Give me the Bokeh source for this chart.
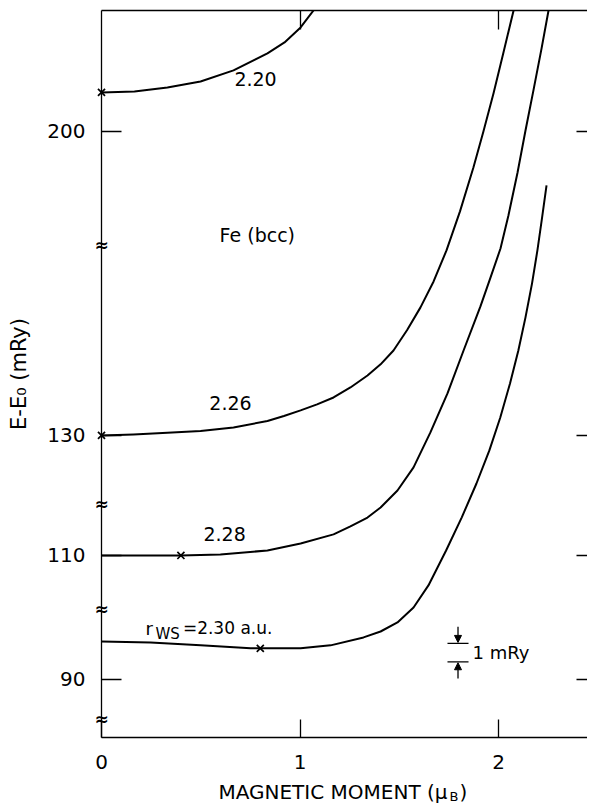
from bokeh.plotting import figure
from bokeh.models import (Range1d, LinearAxis, FixedTicker, Label,
                          ColumnDataSource, Arrow, NormalHead)
from bokeh.embed import file_html
from bokeh.resources import INLINE
from bokeh.core.properties import value

FONT = "DejaVu Sans"

# ---------------- data ----------------
# Wigner-Seitz radii of the four curves
r_ws = ["2.20", "2.26", "2.28", "2.30"]

moment_220 = [0.0, 0.166, 0.332, 0.499, 0.665, 0.836, 0.922, 1.003, 1.068]
energy_220 = [202.11, 202.16, 202.38, 202.70, 203.30, 204.22, 204.81, 205.62, 206.54]

moment_226 = [0.0, 0.161, 0.332, 0.499, 0.665, 0.836, 0.919, 1.003, 1.086, 1.169, 1.254,
              1.340, 1.406, 1.471, 1.539, 1.607, 1.673, 1.738, 1.806, 1.874, 1.924,
              1.975, 2.025, 2.076]
energy_226 = [130.0, 130.05, 130.14, 130.24, 130.43, 130.78, 131.05, 131.35, 131.68,
              132.05, 132.59, 133.24, 133.84, 134.59, 135.68, 136.92, 138.32, 140.0,
              142.11, 144.49, 146.43, 148.49, 150.70, 152.97]

moment_228 = [0.0, 0.202, 0.398, 0.599, 0.836, 1.003, 1.169, 1.254, 1.340, 1.406, 1.491,
              1.572, 1.657, 1.743, 1.824, 1.909, 1.960, 2.010, 2.050, 2.096, 2.136,
              2.176, 2.217, 2.252]
energy_228 = [110.0, 110.0, 110.0, 110.05, 110.27, 110.65, 111.14, 111.57, 112.05,
              112.59, 113.51, 114.76, 116.65, 118.76, 121.08, 123.46, 125.03, 126.59,
              128.38, 130.70, 132.97, 135.14, 137.41, 139.46]

moment_230 = [0.0, 0.247, 0.499, 0.751, 0.801, 1.003, 1.154, 1.320, 1.406, 1.491, 1.572,
              1.647, 1.736, 1.815, 1.889, 1.954, 2.009, 2.058, 2.100, 2.136, 2.169,
              2.196, 2.219, 2.242]
energy_230 = [92.05, 92.0, 91.84, 91.68, 91.68, 91.68, 91.84, 92.27, 92.59, 93.08, 93.89,
              95.08, 96.97, 98.76, 100.59, 102.38, 104.16, 106.0, 107.78, 109.57, 111.41,
              113.19, 114.92, 116.70]

# equilibrium (minimum) points marked with a cross
min_moment = [0.0, 0.0, 0.40, 0.80]
min_energy = [202.11, 130.0, 110.0, 91.68]

# y tick labels of the broken axis and x tick labels
y_tick_values = [200, 130, 110, 90]
x_tick_values = [0, 1, 2]
scale_bar_mry = 1.0

# ---------------- layout of the broken axis ----------------
# display position of each axis segment's tick (display units = mRy)
seg_pos = [119.62, 103.19, 96.70, 90.0]
seg_offset = [t - p for t, p in zip(y_tick_values, seg_pos)]
break_pos = [113.46, 99.46, 93.78, 87.84]

curves = [(moment_220, energy_220, seg_offset[0]),
          (moment_226, energy_226, seg_offset[1]),
          (moment_228, energy_228, seg_offset[2]),
          (moment_230, energy_230, seg_offset[3])]

PX_PER_X = 198.5
PX_PER_Y = 18.5
FRAME_W = 486
FRAME_H = 727
Y0 = 86.86

p = figure(frame_width=FRAME_W, frame_height=FRAME_H,
           x_range=Range1d(0, FRAME_W / PX_PER_X),
           y_range=Range1d(Y0, Y0 + FRAME_H / PX_PER_Y),
           output_backend="svg", toolbar_location=None,
           min_border_left=101, min_border_top=10, min_border_bottom=66,
           min_border_right=0)
p.grid.visible = False
p.outline_line_color = None
p.background_fill_color = "white"
p.border_fill_color = "white"

for mx, ey, off in curves:
    src = ColumnDataSource(dict(x=mx, y=[e - off for e in ey]))
    p.line("x", "y", source=src, line_color="black", line_width=2.0,
           line_join="round")

msrc = ColumnDataSource(dict(x=min_moment,
                             y=[e - o for e, o in zip(min_energy, seg_offset)]))
mk = p.scatter("x", "y", source=msrc, marker="x", size=10, line_color="black",
               line_width=1.7)
mk.level = "overlay"

# ---------------- axes ----------------
yax = p.yaxis[0]
yax.ticker = FixedTicker(ticks=seg_pos)
yax.major_label_overrides = {pos: str(t) for pos, t in zip(seg_pos, y_tick_values)}
yax.major_tick_in = 20
yax.major_tick_out = 0
yax.minor_tick_line_color = None
yax.axis_line_width = 1.3
yax.major_tick_line_width = 1.3
yax.major_label_standoff = 16
yax.major_label_text_font = FONT
yax.major_label_text_font_size = "20px"
yax.major_label_text_color = "black"
yax.axis_label = "E-E\u2080 (mRy)"
yax.axis_label_text_font = FONT
yax.axis_label_text_font_size = "21px"
yax.axis_label_text_font_style = "normal"
yax.axis_label_text_color = "black"
yax.axis_label_standoff = 13

xax = p.xaxis[0]
xax.ticker = FixedTicker(ticks=x_tick_values)
xax.major_tick_in = 18
xax.major_tick_out = 0
xax.minor_tick_line_color = None
xax.axis_line_width = 1.5
xax.major_tick_line_width = 1.3
xax.major_label_standoff = 17
xax.major_label_text_font = FONT
xax.major_label_text_font_size = "20px"
xax.major_label_text_color = "black"

top = LinearAxis(ticker=FixedTicker(ticks=[1, 2]), major_tick_in=19, major_tick_out=0,
                 minor_tick_line_color=None, axis_line_width=1.5,
                 major_tick_line_width=1.3, major_label_standoff=0,
                 major_label_text_font_size="0px", major_label_text_color=None)
p.add_layout(top, "above")

right = LinearAxis(ticker=FixedTicker(ticks=seg_pos), major_tick_in=11, major_tick_out=0,
                   minor_tick_line_color=None, axis_line_color=None,
                   major_tick_line_width=1.3, major_label_standoff=0,
                   major_label_text_font_size="0px", major_label_text_color=None)
p.add_layout(right, "right")

# axis break marks (unclipped text glyphs sitting on the axis line)
bsrc = ColumnDataSource(dict(x=[0.0] * len(break_pos), y=break_pos,
                             t=["\u2248"] * len(break_pos)))
br = p.text(x="x", y="y", text="t", source=bsrc, text_align="center",
            text_baseline="middle", text_font=value(FONT),
            text_font_size=value("17px"), text_font_style="bold", text_color="black")
br.level = "overlay"

# x axis title (with subscript B), drawn below the frame
tsrc = ColumnDataSource(dict(x=[0.589, 1.753, 1.804], y=[83.94, 83.67, 83.94],
                             t=["MAGNETIC MOMENT (\u03bc", "B", ")"],
                             s=["20px", "13px", "20px"]))
tt = p.text(x="x", y="y", text="t", source=tsrc, text_align="left",
            text_baseline="alphabetic", text_font=value(FONT),
            text_font_size="s", text_color="black")
tt.level = "overlay"

# curve labels
def lab(x, y, text, size="19px", align="center", baseline="middle"):
    p.add_layout(Label(x=x, y=y, text=text, text_font=FONT, text_font_size=size,
                       text_align=align, text_baseline=baseline, text_color="black"))

lab(0.776, 122.43, r_ws[0])
lab(0.65, 104.92, r_ws[1])
lab(0.62, 97.84, r_ws[2])
lab(0.785, 114.0, "Fe (bcc)")
lab(0.222, 92.76, "r", size="18px", align="left", baseline="alphabetic")
lab(0.272, 92.43, "WS", size="15px", align="left", baseline="alphabetic")
lab(0.410, 92.76, "=" + r_ws[3] + " a.u.", size="17px", align="left",
    baseline="alphabetic")

# 1 mRy scale bar
sb_top = 91.95
sb_bot = sb_top - scale_bar_mry
sb_x0, sb_x1 = 1.743, 1.849
sb_xm = 0.5 * (sb_x0 + sb_x1)
p.segment(x0=[sb_x0, sb_x0], y0=[sb_top, sb_bot], x1=[sb_x1, sb_x1], y1=[sb_top, sb_bot],
          line_color="black", line_width=1.3)
p.add_layout(Arrow(end=NormalHead(size=7, fill_color="black", line_color="black"),
                   x_start=sb_xm, y_start=sb_top + 0.9, x_end=sb_xm, y_end=sb_top + 0.05,
                   line_width=1.3, line_color="black"))
p.add_layout(Arrow(end=NormalHead(size=7, fill_color="black", line_color="black"),
                   x_start=sb_xm, y_start=sb_bot - 0.9, x_end=sb_xm, y_end=sb_bot - 0.05,
                   line_width=1.3, line_color="black"))
lab(1.869, 0.5 * (sb_top + sb_bot), "1 mRy", size="18px", align="left")

open("out.html", "w").write(file_html(p, INLINE))
